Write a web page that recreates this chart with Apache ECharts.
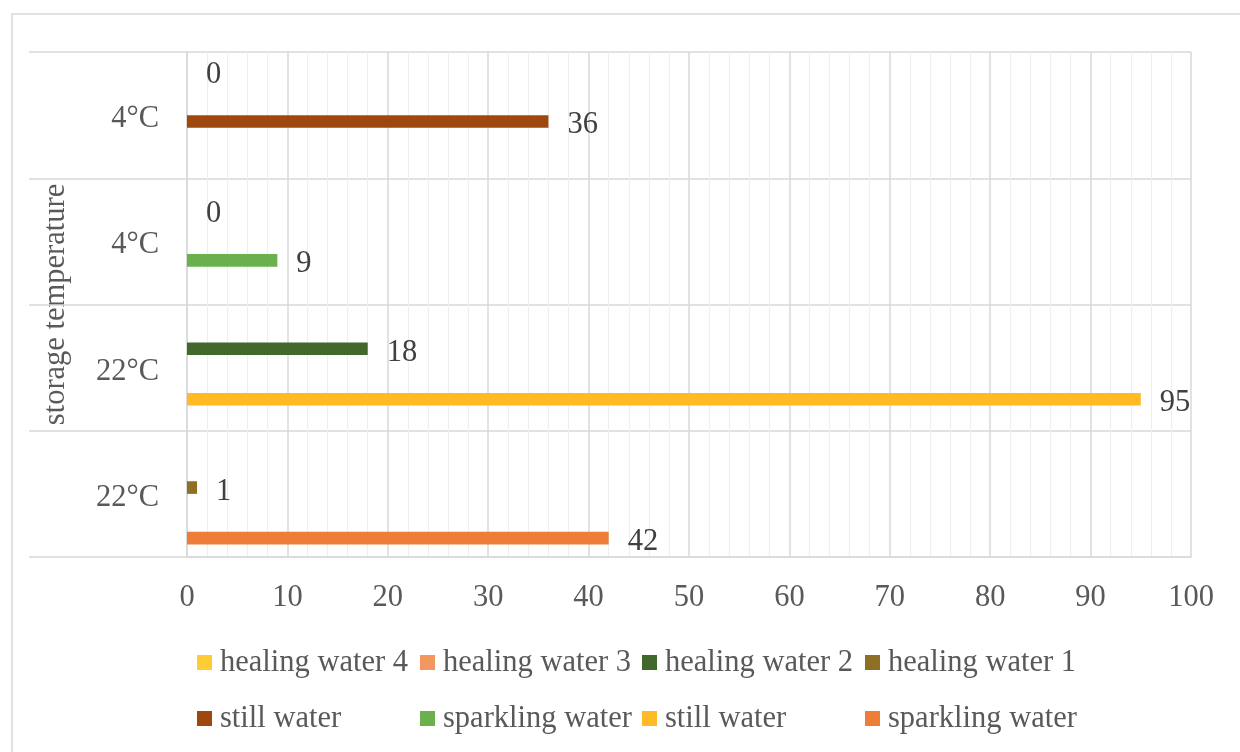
<!DOCTYPE html>
<html>
<head>
<meta charset="utf-8">
<script src="https://cdn.jsdelivr.net/npm/echarts@6/dist/echarts.min.js"></script>
<style>
  html, body { margin: 0; padding: 0; background: #ffffff; }
  #chart { width: 1240px; height: 752px; }
</style>
</head>
<body>
<div id="chart"></div>
<script>
// Categories, bottom to top
const categories = ['22°C', '22°C', '4°C', '4°C'];
const axisName = 'storage temperature';
const xTicks = { min: 0, max: 100, interval: 10 };

// Series (legend order; top slot to bottom slot within each category)
const seriesKeys = ['hw4', 'hw3', 'hw2', 'hw1', 'still1', 'sparkling1', 'still2', 'sparkling2'];
const seriesLabels = ['healing water 4', 'healing water 3', 'healing water 2', 'healing water 1',
                      'still water', 'sparkling water', 'still water', 'sparkling water'];
const seriesColors = ['#FFCD33', '#F4975F', '#43682B', '#8F6F24',
                      '#9E480E', '#6AB04C', '#FFBA26', '#EF7D3A'];

const healingWater4 = [null, null, null, 0];
const healingWater3 = [null, null, 0, null];
const healingWater2 = [null, 18, null, null];
const healingWater1 = [1, null, null, null];
const stillWaterA = [null, null, null, 36];
const sparklingWaterA = [null, null, 9, null];
const stillWaterB = [null, 95, null, null];
const sparklingWaterB = [42, null, null, null];

const seriesValues = [healingWater4, healingWater3, healingWater2, healingWater1,
                      stillWaterA, sparklingWaterA, stillWaterB, sparklingWaterB];

const FONT = 'Liberation Serif';
const FS = 30.5;

const chart = echarts.init(document.getElementById('chart'), null, { renderer: 'canvas' });

const series = seriesKeys.map((k, i) => ({
  name: k,
  type: 'bar',
  data: seriesValues[i],
  barGap: '0%',
  barCategoryGap: '20%',
  itemStyle: { color: seriesColors[i] },
  label: {
    show: true,
    position: 'right',
    distance: 19,
    offset: [0, 4],
    fontFamily: FONT,
    fontSize: FS,
    color: '#404040'
  },
  emphasis: { disabled: true }
}));

const legendLeft = [197, 420, 642, 865];
const legends = seriesKeys.map((k, i) => ({
  data: [k],
  left: legendLeft[i % 4],
  top: i < 4 ? 647 : 703,
  icon: 'rect',
  itemWidth: 15,
  itemHeight: 15,
  itemGap: 0,
  padding: 0,
  selectedMode: false,
  formatter: () => seriesLabels[i],
  textStyle: { fontFamily: FONT, fontSize: FS, color: '#595959', lineHeight: 30, padding: [0, 0, 0, 3] }
}));

chart.setOption({
  animation: false,
  backgroundColor: '#ffffff',
  grid: { left: 187, right: 49, top: 52, bottom: 195, containLabel: false },
  legend: legends,
  xAxis: {
    type: 'value',
    min: xTicks.min,
    max: xTicks.max,
    interval: xTicks.interval,
    axisLine: { show: true, lineStyle: { color: '#d9d9d9', width: 1.5 } },
    axisTick: { show: false },
    axisLabel: { fontFamily: FONT, fontSize: FS, color: '#595959', margin: 25 },
    splitLine: { show: true, lineStyle: { color: '#d9d9d9', width: 1.5 } },
    minorTick: { show: false, splitNumber: 5 },
    minorSplitLine: { show: true, lineStyle: { color: '#efefef', width: 1.2 } }
  },
  yAxis: {
    type: 'category',
    data: categories,
    name: axisName,
    nameLocation: 'middle',
    nameRotate: 90,
    nameGap: 116,
    nameTextStyle: { fontFamily: FONT, fontSize: FS, color: '#595959' },
    axisLine: { show: true, lineStyle: { color: '#d9d9d9', width: 1.5 } },
    axisTick: { show: true, length: 158, alignWithLabel: false, lineStyle: { color: '#d9d9d9', width: 1.5 } },
    axisLabel: {
      margin: 28,
      formatter: v => '{c|' + v + '}',
      rich: { c: { fontFamily: FONT, fontSize: FS, color: '#595959', padding: [8, 0, 0, 0] } }
    },
    splitLine: { show: true, lineStyle: { color: '#d9d9d9', width: 1.5 } }
  },
  graphic: [{
    type: 'rect',
    shape: { x: 12, y: 14, width: 1300, height: 800 },
    style: { fill: 'none', stroke: '#d9d9d9', lineWidth: 1.5 },
    silent: true,
    z: -1
  }],
  series: series
});
</script>
</body>
</html>
